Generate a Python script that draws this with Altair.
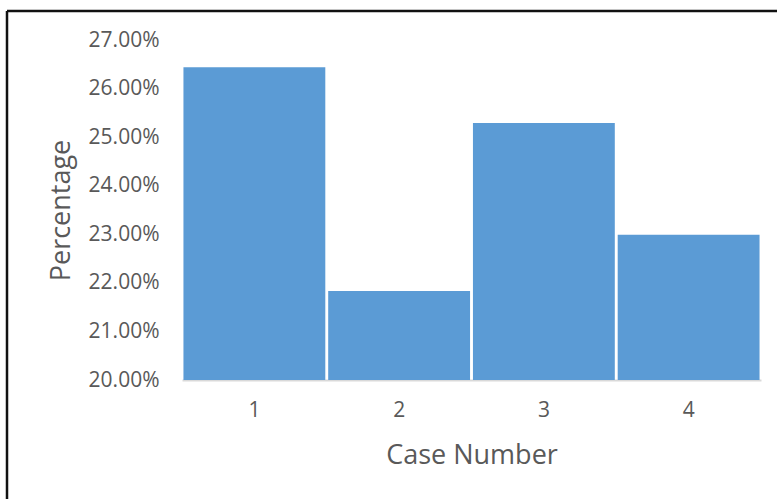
import altair as alt
import pandas as pd

# Share of each case, as fractions
cases = ["1", "2", "3", "4"]
percentages = [0.2644, 0.2183, 0.2529, 0.2299]
y_ticks = [0.20, 0.21, 0.22, 0.23, 0.24, 0.25, 0.26, 0.27]
y_min, y_max = 0.20, 0.27

df = pd.DataFrame({"case": cases, "pct": percentages})

W, H = 579, 340
LEFT, TOP = 182, 40
RIGHT, BOTTOM = 777 - LEFT - W, 499 - TOP - H
FONT = "Open Sans"
TEXT = "#595959"
FRAME = "#111111"

bars = alt.Chart(df).mark_bar(color="#5b9bd5").encode(
    x=alt.X(
        "case:N",
        sort=cases,
        scale=alt.Scale(paddingInner=0.02, paddingOuter=0.01),
        axis=alt.Axis(
            title="Case Number",
            labelAngle=0,
            ticks=False,
            domainColor="#d9d9d9",
            domainWidth=2,
            labelPadding=19,
            titlePadding=22,
        ),
    ),
    y=alt.Y(
        "pct:Q",
        scale=alt.Scale(domain=[y_min, y_max], zero=False, nice=False),
        axis=alt.Axis(
            title="Percentage",
            format=".2%",
            values=y_ticks,
            grid=False,
            domain=False,
            ticks=False,
            labelPadding=23,
            titlePadding=13,
        ),
    ),
    y2=alt.datum(y_min),
)

# Dark frame lines along the top and left of the figure
frame_src = pd.DataFrame({"k": [0]})
top_line = alt.Chart(frame_src).mark_rule(color=FRAME, strokeWidth=2.5).encode(
    x=alt.value(7 - LEFT),
    x2=alt.value(W + RIGHT),
    y=alt.value(11 - TOP),
)
left_line = alt.Chart(frame_src).mark_rule(color=FRAME, strokeWidth=2.5).encode(
    x=alt.value(7 - LEFT),
    y=alt.value(11 - TOP),
    y2=alt.value(H + BOTTOM),
)

chart = (
    alt.layer(bars, top_line, left_line)
    .properties(
        width=W,
        height=H,
        autosize=alt.AutoSizeParams(type="none"),
        padding={"left": LEFT, "top": TOP, "right": RIGHT, "bottom": BOTTOM},
        background="white",
    )
    .configure_view(strokeOpacity=0)
    .configure_axis(
        labelFont=FONT,
        titleFont=FONT,
        labelFontSize=21,
        titleFontSize=27,
        labelColor=TEXT,
        titleColor=TEXT,
        titleFontWeight="normal",
    )
)

chart.save("out.html", embed_options={"renderer": "svg", "actions": False})
